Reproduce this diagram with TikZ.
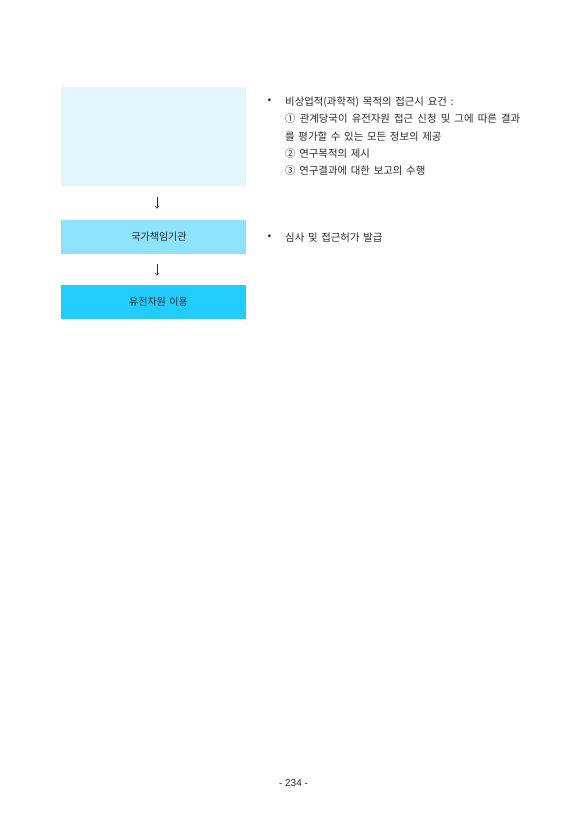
\documentclass[tikz,border=0pt]{standalone}
\usepackage{fontspec}
\usetikzlibrary{arrows.meta}
\setmainfont[WordSpace=1.6]{Noto Sans CJK KR}
\newfontfamily\pagefont{Liberation Sans}
\definecolor{boxA}{HTML}{E1F6FD}
\definecolor{boxB}{HTML}{8EE2FC}
\definecolor{boxC}{HTML}{22CCFF}
\definecolor{txt}{HTML}{2A2A2A}
\begin{document}
\begin{tikzpicture}[x=1pt,y=1pt,
  flowbox/.style={draw=none,minimum width=185pt,inner sep=0pt},
  boxlabel/.style={inner sep=0pt,font=\fontsize{10}{12}\selectfont,text=txt},
  textline/.style={anchor=west,inner sep=0pt,font=\fontsize{10.4}{12}\selectfont,text=txt},
  bulletmark/.style={inner sep=0pt,font=\fontsize{11}{12}\selectfont,text=txt},
  downarrow/.style={draw=txt,line width=0.45pt,-{Straight Barb[length=2.4pt,width=3.6pt]},shorten <=11pt,shorten >=11pt}]
\useasboundingbox (0,0) rectangle (587,-830);
\fill[white] (0,0) rectangle (587,-830);
\node[flowbox,fill=boxA,minimum height=99pt] (b1) at (153.5,-136.5) {};
\node[flowbox,fill=boxB,minimum height=34pt] (b2) at (153.5,-237) {};
\node[flowbox,fill=boxC,minimum height=34pt] (b3) at (153.5,-302) {};
\node[boxlabel] (t2) at ([xshift=5.5pt]b2.center) {국가책임기관};
\node[boxlabel] (t3) at ([xshift=5pt]b3.center) {유전자원 이용};
\draw[downarrow] ([xshift=3.5pt]b1.south) -- ([xshift=3.5pt]b2.north);
\draw[downarrow,shorten <=9.5pt,shorten >=9pt] ([xshift=3.5pt]b2.south) -- ([xshift=3.5pt]b3.north);
\node[bulletmark] (bul1) at (269.5,-101.5) {•};
\node[textline] (l1) at (285,-101.8) {비상업적(과학적) 목적의 접근시 요건 :};
\node[textline] (l2) at (285,-119) {\makebox[235pt][s]{① 관계당국이 유전자원 접근 신청 및 그에 따른 결과}};
\node[textline] (l3) at (285,-136.3) {를 평가할 수 있는 모든 정보의 제공};
\node[textline] (l4) at (285,-153.5) {② 연구목적의 제시};
\node[textline] (l5) at (285,-170.7) {③ 연구결과에 대한 보고의 수행};
\node[bulletmark] (bul2) at (269.5,-237.3) {•};
\node[textline] (m1) at (285,-237.5) {심사 및 접근허가 발급};
\node[inner sep=0pt,font=\pagefont\fontsize{10}{12}\selectfont,text=txt] (pg) at (293.5,-783) {- 234 -};
\end{tikzpicture}
\end{document}
